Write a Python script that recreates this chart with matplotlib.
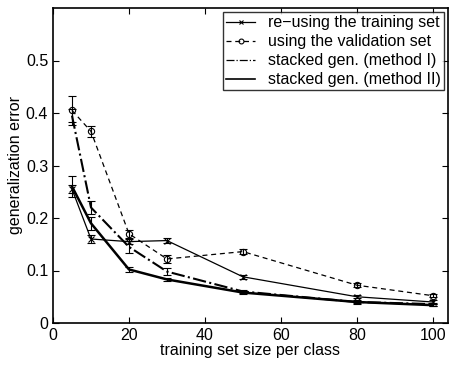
import matplotlib
matplotlib.use("Agg")
import matplotlib.pyplot as plt
from matplotlib.lines import Line2D

plt.rcParams["font.family"] = ["Liberation Sans", "DejaVu Sans"]

# ---------------------------------------------------------
# Data
# ---------------------------------------------------------
sizes = [5, 10, 20, 30, 50, 80, 100]

reuse_train = [0.255, 0.160, 0.155, 0.157, 0.088, 0.050, 0.040]
reuse_train_err = [0.008, 0.007, 0.005, 0.004, 0.004, 0.003, 0.003]

validation = [0.405, 0.365, 0.170, 0.122, 0.136, 0.072, 0.052]
validation_err = [0.028, 0.010, 0.008, 0.007, 0.005, 0.004, 0.003]

method1 = [0.395, 0.220, 0.145, 0.098, 0.060, 0.040, 0.036]
method1_err = [0.012, 0.012, 0.012, 0.006, 0.003, 0.003, 0.003]

method2 = [0.260, 0.190, 0.102, 0.083, 0.058, 0.040, 0.034]
method2_err = [0.020, 0.012, 0.004, 0.003, 0.002, 0.002, 0.002]

labels = [
    "re\u2212using the training set",
    "using the validation set",
    "stacked gen. (method I)",
    "stacked gen. (method II)",
]

# ---------------------------------------------------------
# Plot
# ---------------------------------------------------------
fig = plt.figure(figsize=(4.49, 3.65), dpi=100)
ax = fig.add_axes([53 / 449, 42 / 365, 395 / 449, 315 / 365])

common = dict(color="black", capsize=3, elinewidth=0.8, capthick=0.8)

s1 = dict(linestyle="-", marker="x", markersize=4, markeredgewidth=0.8, linewidth=0.9)
s2 = dict(linestyle="--", marker="o", markersize=4.5, markerfacecolor="none",
          markeredgewidth=0.8, linewidth=0.9, dashes=(4, 3))
s3 = dict(linestyle="-.", linewidth=1.5)
s4 = dict(linestyle="-", linewidth=1.8)

ax.errorbar(sizes, reuse_train, yerr=reuse_train_err, **s1, **common)
ax.errorbar(sizes, validation, yerr=validation_err, **s2, **common)
ax.errorbar(sizes, method1, yerr=method1_err, **s3, **common)
ax.errorbar(sizes, method2, yerr=method2_err, **s4, **common)

ax.set_xlim(0, 104)
ax.set_ylim(0, 0.6)
ax.set_xticks([0, 20, 40, 60, 80, 100])
ax.set_yticks([0, 0.1, 0.2, 0.3, 0.4, 0.5])
ax.set_yticklabels(["0", "0.1", "0.2", "0.3", "0.4", "0.5"])
ax.tick_params(direction="in", labelsize=11.5, length=4, top=True, right=True)
for spine in ax.spines.values():
    spine.set_linewidth(1.2)

ax.set_xlabel("training set size per class", fontsize=11.5, labelpad=0)
ax.set_ylabel("generalization error", fontsize=11.5, labelpad=2)

handles = [
    Line2D([], [], color="black", **{**s1, "markersize": 3}),
    Line2D([], [], color="black", **{**s2, "markersize": 3.5}),
    Line2D([], [], color="black", linestyle="-.", linewidth=0.9),
    Line2D([], [], color="black", linestyle="-", linewidth=1.2),
]
leg = ax.legend(handles, labels, loc="upper right", fontsize=11.5, frameon=True,
                fancybox=False, edgecolor="black", borderpad=0.2,
                labelspacing=0.25, handlelength=1.8, handletextpad=0.8,
                borderaxespad=0.25)
leg.get_frame().set_linewidth(1.0)

fig.savefig("out.png", dpi=100)
plt.close(fig)
